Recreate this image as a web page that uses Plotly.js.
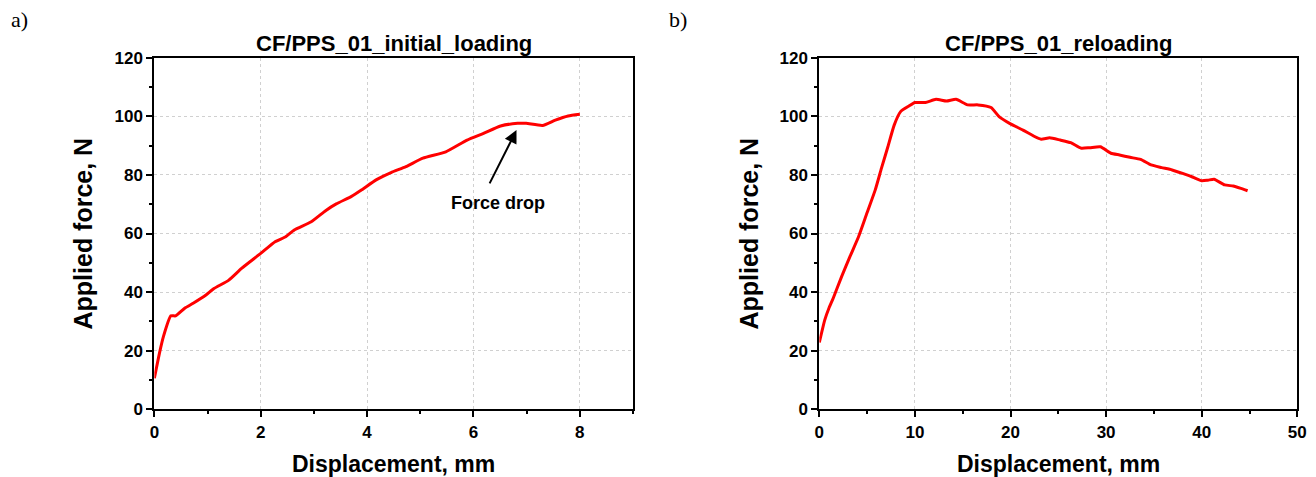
<!DOCTYPE html>
<html>
<head>
<meta charset="utf-8">
<script src="https://cdn.plot.ly/plotly-3.0.1.min.js"></script>
<style>html,body{margin:0;padding:0;background:#fff}#chart{width:1316px;height:477px}</style>
</head>
<body>
<div id="chart"></div>
<script>
// a) initial loading
const initDisp = [0, 0.095, 0.17, 0.31, 0.4, 0.57, 0.73, 0.97, 1.12, 1.4, 1.64, 2.0, 2.27, 2.47, 2.63, 2.95, 3.22, 3.42, 3.7, 3.9, 4.17, 4.45, 4.73, 5.05, 5.48, 5.88, 6.19, 6.51, 6.83, 6.99, 7.3, 7.54, 7.78, 8.0];
const initForce = [10.6, 19.1, 24.8, 31.9, 31.9, 34.5, 36.2, 39.0, 41.2, 44.1, 48.1, 53.2, 57.2, 58.9, 61.2, 64.0, 67.8, 70.1, 72.6, 74.9, 78.3, 80.8, 82.8, 85.7, 87.9, 91.9, 94.2, 96.7, 97.6, 97.6, 96.9, 98.7, 100.1, 100.7];
// b) reloading
const reDisp = [0, 0.57, 1.0, 1.45, 2.33, 3.2, 4.1, 4.97, 5.85, 6.5, 7.17, 7.83, 8.5, 9.37, 10.0, 11.1, 12.2, 13.3, 14.3, 15.5, 16.6, 17.96, 18.8, 19.9, 21.3, 22.4, 23.2, 24.1, 25.2, 26.3, 27.4, 28.3, 29.4, 30.5, 31.4, 32.5, 33.6, 34.7, 35.8, 36.9, 38.0, 39.1, 40.0, 40.65, 41.3, 42.4, 43.3, 44.1, 44.8];
const reForce = [22.8, 30.5, 34.5, 37.9, 45.3, 52.1, 58.9, 66.9, 74.9, 82.3, 89.6, 97.0, 101.6, 103.5, 104.7, 104.7, 105.8, 105.2, 105.8, 103.9, 103.9, 103.0, 99.9, 97.6, 95.3, 93.3, 92.2, 92.7, 91.9, 91.0, 89.1, 89.3, 89.6, 87.4, 86.8, 86.0, 85.3, 83.4, 82.5, 81.7, 80.5, 79.2, 78.0, 78.2, 78.5, 76.6, 76.2, 75.4, 74.6];

const titleA = "CF/PPS_01_initial_loading";
const titleB = "CF/PPS_01_reloading";
const xLabel = "Displacement, mm";
const yLabel = "Applied force, N";
const noteText = "Force drop";
// arrow tip and tail (data coords)
const arrowTip = [6.81, 95.3];
const arrowTail = [6.29, 76.6];
const noteAt = [6.46, 70.4];

const FONT = "Liberation Sans, Arial, sans-serif";
const tickFont = {family: FONT, size: 17, color: "#000", weight: "bold"};

function axisBase(extra) {
  return Object.assign({
    showline: true, linecolor: "#000", linewidth: 2, mirror: true,
    ticks: "outside", ticklen: 6, tickwidth: 2, tickcolor: "#000",
    showgrid: true, gridcolor: "#d0d0d0", griddash: "dot", gridwidth: 1,
    zeroline: false, tickfont: tickFont, fixedrange: true
  }, extra);
}
function minorTicks(d) {
  return {dtick: d, ticks: "outside", ticklen: 3, tickwidth: 2, tickcolor: "#000", showgrid: false};
}

const traces = [
  {x: initDisp, y: initForce, type: "scatter", mode: "lines", xaxis: "x", yaxis: "y",
   line: {color: "#ff0000", width: 3, shape: "spline", smoothing: 0.5}, hoverinfo: "skip"},
  {x: reDisp, y: reForce, type: "scatter", mode: "lines", xaxis: "x2", yaxis: "y2",
   line: {color: "#ff0000", width: 3, shape: "spline", smoothing: 0.5}, hoverinfo: "skip"}
];

const yDom = [0.1419, 0.879];
const titleFont = {family: FONT, size: 22, color: "#000", weight: "bold"};
const axTitleFont = {family: FONT, size: 23, color: "#000", weight: "bold"};
const yTitleFont = {family: FONT, size: 25, color: "#000", weight: "bold"};
const layout = {
  width: 1316, height: 477,
  margin: {l: 0, r: 0, t: 0, b: 0},
  paper_bgcolor: "#fff", plot_bgcolor: "#fff",
  showlegend: false,
  xaxis: axisBase({domain: [0.1173, 0.481], range: [0, 9], dtick: 2, tick0: 0, minor: minorTicks(1), anchor: "y"}),
  yaxis: axisBase({domain: yDom, range: [0, 120], dtick: 20, tick0: 0, minor: minorTicks(10), anchor: "x"}),
  xaxis2: axisBase({domain: [0.6226, 0.9858], range: [0, 50], dtick: 10, tick0: 0, minor: minorTicks(5), anchor: "y2"}),
  yaxis2: axisBase({domain: yDom, range: [0, 120], dtick: 20, tick0: 0, minor: minorTicks(10), anchor: "x2"}),
  annotations: [
    {text: "a)", xref: "paper", yref: "paper", x: 9/1316, y: 1 - 20/477, xanchor: "left", yanchor: "middle",
     showarrow: false, font: {family: "Liberation Serif, Times New Roman, serif", size: 22, color: "#000"}},
    {text: "b)", xref: "paper", yref: "paper", x: 667/1316, y: 1 - 20/477, xanchor: "left", yanchor: "middle",
     showarrow: false, font: {family: "Liberation Serif, Times New Roman, serif", size: 22, color: "#000"}},
    {text: titleA, xref: "x domain", yref: "paper", x: 0.5, y: 1 - 43/477, xanchor: "center", yanchor: "middle",
     showarrow: false, font: titleFont},
    {text: titleB, xref: "x2 domain", yref: "paper", x: 0.5, y: 1 - 43/477, xanchor: "center", yanchor: "middle",
     showarrow: false, font: titleFont},
    {text: xLabel, xref: "x domain", yref: "paper", x: 0.5, y: 1 - 464/477, xanchor: "center", yanchor: "middle",
     showarrow: false, font: axTitleFont},
    {text: xLabel, xref: "x2 domain", yref: "paper", x: 0.5, y: 1 - 464/477, xanchor: "center", yanchor: "middle",
     showarrow: false, font: axTitleFont},
    {text: yLabel, xref: "paper", yref: "y domain", x: 83/1316, y: 0.5, xanchor: "center", yanchor: "middle", textangle: -90,
     showarrow: false, font: yTitleFont},
    {text: yLabel, xref: "paper", yref: "y2 domain", x: 749/1316, y: 0.5, xanchor: "center", yanchor: "middle", textangle: -90,
     showarrow: false, font: yTitleFont},
    {text: "", xref: "x", yref: "y", x: arrowTip[0], y: arrowTip[1], axref: "x", ayref: "y",
     ax: arrowTail[0], ay: arrowTail[1], showarrow: true, arrowhead: 2, arrowsize: 1.3, arrowwidth: 2, arrowcolor: "#000", standoff: 0},
    {text: noteText, xref: "x", yref: "y", x: noteAt[0], y: noteAt[1], xanchor: "center", yanchor: "middle",
     showarrow: false, font: {family: FONT, size: 18, color: "#000", weight: "bold"}}
  ]
};

Plotly.newPlot("chart", traces, layout, {displayModeBar: false, staticPlot: true});
</script>
</body>
</html>
